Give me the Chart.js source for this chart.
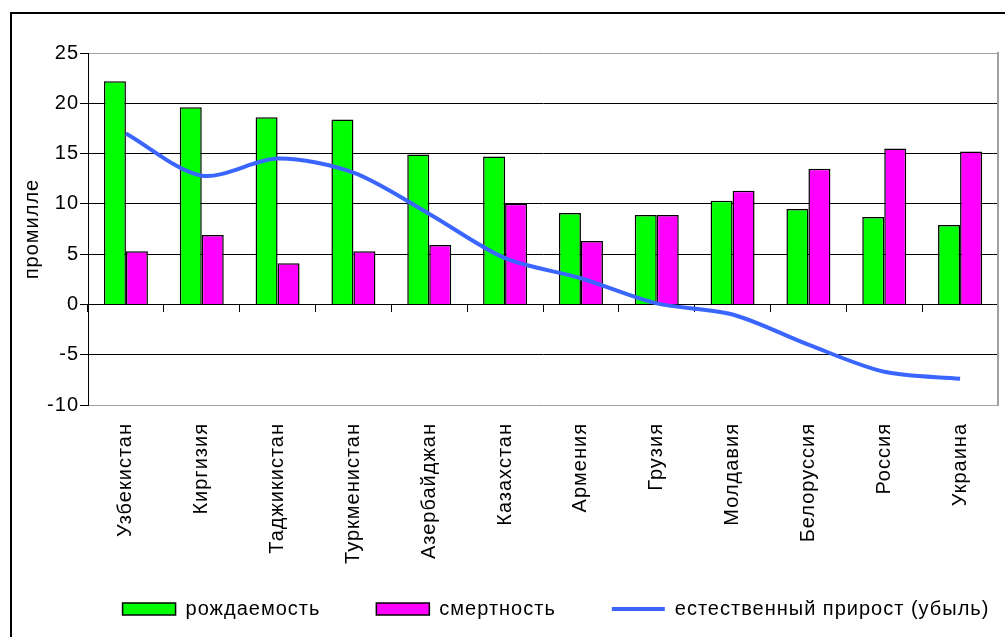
<!DOCTYPE html>
<html>
<head>
<meta charset="utf-8">
<script src="https://cdn.jsdelivr.net/npm/chart.js@4"></script>
<style>
    html, body { margin: 0; padding: 0; background: #fff; overflow: hidden; }
    #frame {
        position: absolute; left: 10px; top: 12px;
        width: 1200px; height: 700px;
        border-left: 2px solid #000; border-top: 2px solid #000;
    }
    #chart { position: absolute; left: 0; top: 0; }
</style>
</head>
<body>
<div id="frame"><canvas id="chart"></canvas></div>
<script>
/* global Chart */

var countries = ['Узбекистан', 'Киргизия', 'Таджикистан', 'Туркменистан', 'Азербайджан', 'Казахстан',
    'Армения', 'Грузия', 'Молдавия', 'Белоруссия', 'Россия', 'Украина'];
var birthRate = [22.2, 19.6, 18.6, 18.4, 14.9, 14.7, 9.1, 8.9, 10.3, 9.5, 8.7, 7.9];
var deathRate = [5.3, 6.9, 4.1, 5.3, 5.9, 10.0, 6.3, 8.9, 11.3, 13.5, 15.5, 15.2];
var naturalGrowth = [17.0, 12.8, 14.5, 13.1, 9.0, 4.6, 2.6, 0.1, -1.0, -4.0, -6.7, -7.4];

var FONT = {family: '"Liberation Sans", Arial, sans-serif', size: 20};

(function () {

    var canvas = document.getElementById('chart');
    var W = 1088, H = 623;
    canvas.style.width = W + 'px';
    canvas.style.height = H + 'px';
    canvas.width = W;
    canvas.height = H;

    // old bitmap font in the original is wider than Arial
    var wideText = {
        id: 'wideText',
        beforeUpdate: function (chart) { chart.ctx.letterSpacing = '1px'; },
        beforeLayout: function (chart) { chart.ctx.letterSpacing = '1px'; },
        beforeDraw: function (chart) { chart.ctx.letterSpacing = '1px'; }
    };

    var config = {
        type: 'bar',
        data: {
            labels: countries,
            datasets: [{
                label: 'рождаемость',
                data: birthRate,
                backgroundColor: '#00ff00',
                borderColor: '#000',
                borderWidth: 1.5,
                pointStyle: 'rect',
                order: 1
            }, {
                label: 'смертность',
                data: deathRate,
                backgroundColor: '#ff00ff',
                borderColor: '#000',
                borderWidth: 1.5,
                pointStyle: 'rect',
                order: 1
            }, {
                type: 'line',
                label: 'естественный прирост (убыль)',
                data: naturalGrowth,
                borderColor: '#3a66ff',
                backgroundColor: '#3a66ff',
                borderWidth: 4,
                tension: 0.3,
                pointRadius: 0,
                pointStyle: 'line',
                order: 0
            }]
        },
        options: {
            responsive: false,
            animation: false,
            devicePixelRatio: 1,
            layout: {padding: {left: 0, top: 39, right: 0, bottom: 8}},
            datasets: {bar: {categoryPercentage: 0.58, barPercentage: 1}},
            scales: {
                // axis line through zero with ticks between categories
                x: {
                    position: {y: 0},
                    offset: true,
                    ticks: {display: false},
                    grid: {offset: true, drawOnChartArea: false, tickLength: 7, color: '#000', lineWidth: 1},
                    border: {color: '#000', width: 1}
                },
                // country names under the plot (not clipped)
                xl: {
                    type: 'category',
                    position: {y: -10},
                    offset: true,
                    grid: {display: false, drawTicks: false},
                    border: {display: false},
                    ticks: {color: '#000', font: FONT, padding: 18, minRotation: 90, maxRotation: 90, autoSkip: false}
                },
                // empty box that reserves room for the names
                xs: {
                    type: 'category',
                    position: 'bottom',
                    grid: {display: false, drawTicks: false},
                    border: {display: false},
                    ticks: {display: false},
                    afterFit: function (scale) { scale.height = 138; }
                },
                y: {
                    min: -10,
                    max: 25,
                    ticks: {stepSize: 5, color: '#000', font: FONT, padding: 1},
                    grid: {
                        color: function (c) {
                            var v = c.tick && c.tick.value;
                            return (v === 25 || v === -10) ? '#a0a0a0' : '#000';
                        },
                        tickColor: '#000',
                        tickLength: 8,
                        lineWidth: 1
                    },
                    border: {color: '#000', width: 1},
                    title: {display: true, text: 'промилле', color: '#000', font: FONT, padding: {top: 8, bottom: 4}},
                    afterFit: function (scale) { scale.width = 76; }
                },
                // empty right axis: grey right edge of the plot area, keeps legend centred on the page
                yr: {
                    type: 'linear',
                    position: 'right',
                    ticks: {display: false},
                    grid: {display: false, drawTicks: false},
                    border: {color: '#a0a0a0', width: 2},
                    afterFit: function (scale) { scale.width = 102; }
                }
            },
            plugins: {
                legend: {
                    position: 'bottom',
                    labels: {
                        color: '#000',
                        font: FONT,
                        usePointStyle: true,
                        pointStyleWidth: 53,
                        boxHeight: 12,
                        padding: 56,
                        sort: function (a, b) { return a.datasetIndex - b.datasetIndex; }
                    }
                },
                tooltip: {enabled: false}
            }
        },
        plugins: [wideText]
    };

    new Chart(canvas.getContext('2d'), config);

})();
</script>
</body>
</html>
